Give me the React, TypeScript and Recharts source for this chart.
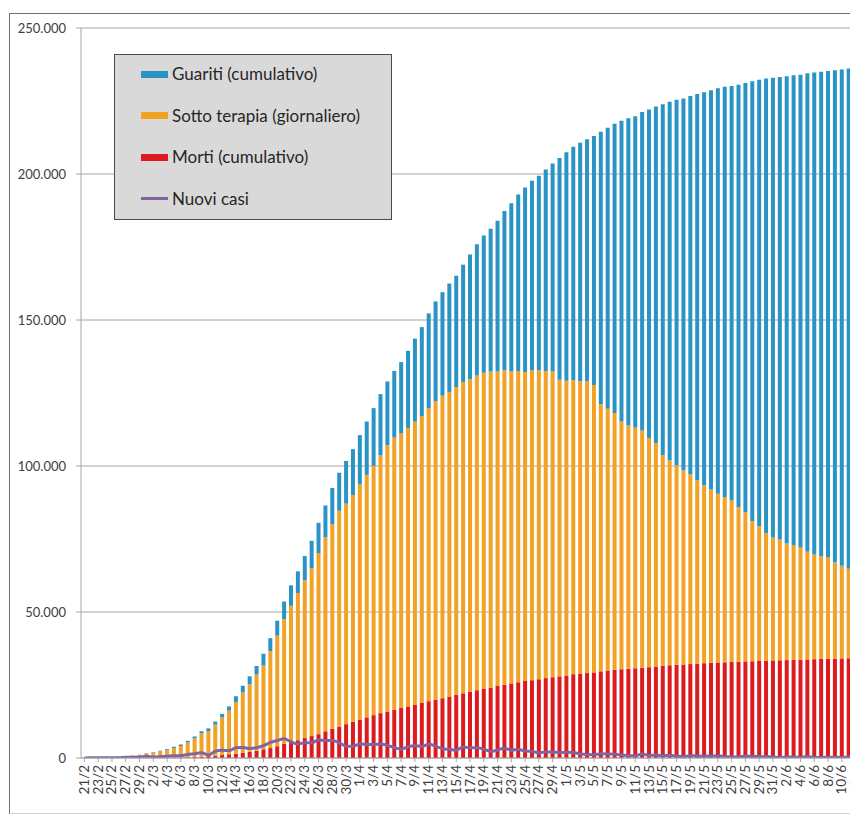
import React from 'react';
import { ComposedChart, Bar, Line, XAxis, YAxis, CartesianGrid, Legend } from 'recharts';

const dates = [
  '21/2', '22/2', '23/2', '24/2', '25/2', '26/2', '27/2', '28/2', '29/2',
  '1/3', '2/3', '3/3', '4/3', '5/3', '6/3', '7/3', '8/3', '9/3', '10/3',
  '11/3', '12/3', '13/3', '14/3', '15/3', '16/3', '17/3', '18/3', '19/3', '20/3',
  '21/3', '22/3', '23/3', '24/3', '25/3', '26/3', '27/3', '28/3', '29/3', '30/3', '31/3',
  '1/4', '2/4', '3/4', '4/4', '5/4', '6/4', '7/4', '8/4', '9/4', '10/4',
  '11/4', '12/4', '13/4', '14/4', '15/4', '16/4', '17/4', '18/4', '19/4', '20/4',
  '21/4', '22/4', '23/4', '24/4', '25/4', '26/4', '27/4', '28/4', '29/4', '30/4',
  '1/5', '2/5', '3/5', '4/5', '5/5', '6/5', '7/5', '8/5', '9/5', '10/5',
  '11/5', '12/5', '13/5', '14/5', '15/5', '16/5', '17/5', '18/5', '19/5', '20/5',
  '21/5', '22/5', '23/5', '24/5', '25/5', '26/5', '27/5', '28/5', '29/5', '30/5', '31/5',
  '1/6', '2/6', '3/6', '4/6', '5/6', '6/6', '7/6', '8/6', '9/6', '10/6', '11/6', '12/6',
];

const morti = [
  1, 2, 3, 7, 10, 12, 17, 21, 29,
  34, 52, 79, 107, 148, 197, 233, 366, 463, 631,
  827, 1016, 1266, 1441, 1809, 2158, 2503, 2978, 3405, 4032,
  4825, 5476, 6077, 6820, 7503, 8165, 9134, 10023, 10779, 11591, 12428,
  13155, 13915, 14681, 15362, 15887, 16523, 17127, 17669, 18279, 18849,
  19468, 19899, 20465, 21067, 21645, 22170, 22745, 23227, 23660, 24114,
  24648, 25085, 25549, 25969, 26384, 26644, 26977, 27359, 27682, 27967,
  28236, 28710, 28884, 29079, 29315, 29684, 29958, 30201, 30395, 30560,
  30739, 30911, 31106, 31368, 31610, 31763, 31908, 32007, 32169, 32330,
  32486, 32616, 32735, 32785, 32877, 32955, 33072, 33142, 33229, 33340, 33415,
  33475, 33530, 33601, 33689, 33774, 33846, 33899, 33964, 34043, 34114, 34167, 34223,
];

const sottoTerapia = [
  19, 77, 149, 221, 311, 385, 588, 821, 1049,
  1577, 1835, 2263, 2706, 3296, 3916, 5061, 6387, 7985, 8514,
  10590, 12839, 14955, 17750, 20603, 23073, 26062, 28710, 33190, 37860,
  42681, 46638, 50418, 54030, 57521, 62013, 66414, 70065, 73880, 75528, 77635,
  80572, 83049, 85388, 88274, 91246, 93187, 94067, 95262, 96877, 98273,
  100269, 102253, 103616, 104291, 105418, 106607, 106962, 107771, 108257, 108237,
  107709, 107699, 106848, 106527, 105847, 106103, 105813, 105205, 104657, 101551,
  100943, 100704, 100179, 99980, 98467, 91528, 89624, 87961, 84842, 83324,
  82488, 81266, 78457, 76440, 72070, 70187, 68351, 66553, 65129, 62752,
  60960, 59322, 57752, 56594, 55300, 52942, 50966, 47986, 46175, 43691, 42075,
  41367, 39893, 39297, 38429, 36976, 35877, 35262, 34730, 32872, 31710, 30637, 29714,
];

const guariti = [
  0, 0, 0, 1, 1, 3, 45, 46, 50,
  83, 149, 160, 276, 414, 523, 589, 622, 724, 1004,
  1045, 1258, 1439, 1966, 2335, 2749, 2941, 4025, 4440, 5129,
  6072, 7024, 7432, 8326, 9362, 10361, 10950, 12384, 13030, 14620, 15729,
  16847, 18278, 19758, 20996, 21815, 22837, 24392, 26491, 28470, 30455,
  32534, 34211, 35435, 37130, 38092, 40164, 42727, 44927, 47055, 48877,
  51600, 54543, 57576, 60498, 63120, 64928, 66624, 68941, 71252, 75945,
  78249, 79914, 81654, 82879, 85231, 93245, 96276, 99023, 103031, 105186,
  106587, 109039, 112541, 115288, 120205, 122810, 125176, 127326, 129401, 132282,
  134560, 136720, 138840, 140479, 141981, 144658, 147101, 150604, 152844, 155633, 157507,
  158355, 160092, 160938, 161895, 163781, 165078, 165837, 166584, 168646, 169939, 171338, 172368,
];

const nuoviCasi = [
  17, 59, 73, 77, 93, 78, 250, 238, 240,
  566, 342, 466, 587, 769, 778, 1247, 1492, 1797, 977,
  2313, 2651, 2547, 3497, 3590, 3233, 3526, 4207, 5322, 5986,
  6557, 5560, 4789, 5249, 5210, 6153, 5959, 5974, 5217, 4050, 4053,
  4782, 4668, 4585, 4805, 4316, 3599, 3039, 3836, 4204, 3951,
  4694, 4092, 3153, 2972, 2667, 3786, 3493, 3491, 3047, 2256,
  2729, 3370, 2646, 3021, 2357, 2324, 1739, 2091, 2086, 1872,
  1965, 1900, 1389, 1221, 1075, 1444, 1401, 1327, 1083, 802,
  744, 1402, 888, 992, 789, 875, 675, 451, 813, 665,
  642, 652, 669, 531, 300, 397, 584, 593, 516, 416, 355,
  178, 318, 321, 177, 518, 270, 197, 280, 283, 202, 379, 163,
];

const yTicks = [0, 50000, 100000, 150000, 200000, 250000];

const COLORS = {
  guariti: '#2b94c6',
  sotto: '#f3a225',
  morti: '#dd1a1e',
  nuovi: '#8064a2',
};

const legendItems = [
  { label: 'Guariti (cumulativo)', color: COLORS.guariti, kind: 'bar' },
  { label: 'Sotto terapia (giornaliero)', color: COLORS.sotto, kind: 'bar' },
  { label: 'Morti (cumulativo)', color: COLORS.morti, kind: 'bar' },
  { label: 'Nuovi casi', color: COLORS.nuovi, kind: 'line' },
];

const data = dates.map((d, i) => ({
  date: d,
  morti: morti[i],
  sottoTerapia: sottoTerapia[i],
  guariti: guariti[i],
  nuoviCasi: nuoviCasi[i],
}));

const FONT = 'Lato, "Liberation Sans", sans-serif';

const fmtY = (v: number) => {
  if (v === 0) return '0';
  const th = Math.floor(v / 1000);
  const rest = String(v % 1000).padStart(3, '0');
  return `${th}.${rest}`;
};

const XTick = (props: any) => {
  const { x, y, payload } = props;
  return (
    <text
      x={x}
      y={y}
      dy={4.5}
      transform={`rotate(-90 ${x} ${y})`}
      textAnchor="end"
      fontSize={13.5}
      fill="#404040"
      fontFamily={FONT}
    >
      {payload.value}
    </text>
  );
};

const LegendBox = () => (
  <div
    style={{
      width: 278,
      height: 166,
      boxSizing: 'border-box',
      background: '#d9d9d9',
      border: '1px solid #4a4a4a',
      position: 'relative',
      fontFamily: FONT,
      fontSize: 17,
      color: '#262626',
    }}
  >
    {legendItems.map((it, i) => {
      const cy = 19 + i * 41.5;
      return (
        <div key={it.label}>
          <div
            style={{
              position: 'absolute',
              left: 26,
              top: it.kind === 'bar' ? cy - 3.5 : cy - 1.5,
              width: 27,
              height: it.kind === 'bar' ? 7 : 3,
              background: it.color,
            }}
          />
          <div
            style={{
              position: 'absolute',
              left: 57,
              top: cy - 11,
              height: 22,
              lineHeight: '22px',
              whiteSpace: 'nowrap',
            }}
          >
            {it.label}
          </div>
        </div>
      );
    })}
  </div>
);

export default function App() {
  return (
    <div style={{ position: 'relative', width: 850, height: 808, overflow: 'hidden' }}>
      <div
        style={{
          position: 'absolute',
          left: 1,
          top: 5,
          width: 900,
          height: 801,
          boxSizing: 'border-box',
          borderTop: '1px solid #6e6e6e',
          borderLeft: '1px solid #6e6e6e',
          borderBottom: '1px solid #d4d4d4',
        }}
      />
      <div style={{ position: 'absolute', left: 0, top: 0 }}>
        <ComposedChart
          width={851}
          height={800}
          data={data}
          margin={{ top: 20, right: 0, bottom: 0, left: 0 }}
          barCategoryGap="21%"
        >
          <CartesianGrid vertical={false} stroke="#a6a6a6" strokeWidth={1} />
          <XAxis
            dataKey="date"
            interval={1}
            height={50}
            tick={<XTick />}
            tickSize={4}
            tickMargin={3}
            axisLine={{ stroke: '#a6a6a6' }}
            tickLine={{ stroke: '#a6a6a6' }}
          />
          <YAxis
            width={73}
            domain={[0, 250000]}
            ticks={yTicks}
            tickFormatter={fmtY}
            tickSize={5}
            tickMargin={10}
            axisLine={{ stroke: '#a6a6a6' }}
            tickLine={{ stroke: '#a6a6a6' }}
            tick={{ fontSize: 13, fill: '#404040', fontFamily: FONT }}
            allowDataOverflow
          />
          <Bar dataKey="morti" stackId="a" fill={COLORS.morti} isAnimationActive={false} />
          <Bar dataKey="sottoTerapia" stackId="a" fill={COLORS.sotto} isAnimationActive={false} />
          <Bar dataKey="guariti" stackId="a" fill={COLORS.guariti} isAnimationActive={false} />
          <Line
            type="monotone"
            dataKey="nuoviCasi"
            stroke={COLORS.nuovi}
            strokeWidth={3}
            dot={false}
            activeDot={false}
            isAnimationActive={false}
          />
          <Legend
            layout="horizontal"
            verticalAlign="middle"
            align="center"
            width={278}
            height={166}
            wrapperStyle={{ left: 106, top: 46, width: 278, height: 166 }}
            content={() => <LegendBox />}
          />
        </ComposedChart>
      </div>
    </div>
  );
}
